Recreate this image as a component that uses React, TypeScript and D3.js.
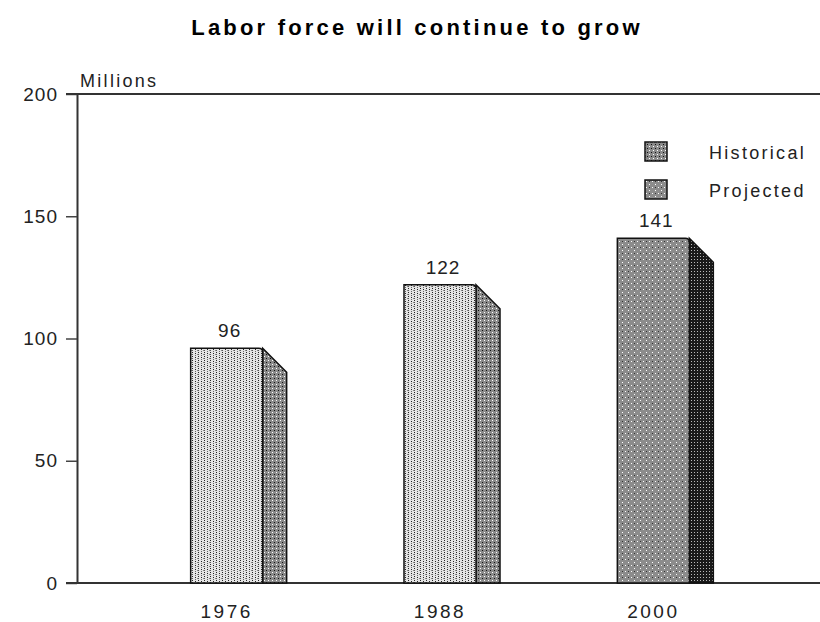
import { axisLeft, scaleLinear, scalePoint, select } from 'd3';
import React, { RefObject, useEffect, useRef } from 'react';

const years = ['1976', '1988', '2000'];
const laborForce = [96, 122, 141];
const kinds = ['Historical', 'Historical', 'Projected'];
const yTicks = [0, 50, 100, 150, 200];
const legendItems = ['Historical', 'Projected'];

const W = 820;
const H = 622;
const FONT = '"Liberation Sans", Arial, sans-serif';

export default function App() {
  const svgRef = useRef<SVGSVGElement>(null);

  useEffect(() => {
    renderChart(svgRef);
  }, []);

  return (
    <svg
      ref={svgRef}
      width={W}
      height={H}
      style={{ position: 'absolute', left: 0, top: 0, background: '#fff' }}
    />
  );
}

function dot(p: any, x: number, y: number, fill: string) {
  p.append('rect').attr('x', x).attr('y', y).attr('width', 1).attr('height', 1).attr('fill', fill);
}

function renderChart(svgRef: RefObject<SVGSVGElement>) {
  const svg = select(svgRef.current);
  svg.selectAll('*').remove();

  const x = scalePoint<string>().domain(years).range([120, 760]).padding(0.5);
  const y = scaleLinear().domain([0, 200]).range([583, 94]);
  const barW = 72;
  const depth = 24;

  // fill patterns, imitating the old dithered printout
  const defs = svg.append('defs');
  const histFront = defs
    .append('pattern')
    .attr('id', 'histFront')
    .attr('patternUnits', 'userSpaceOnUse')
    .attr('width', 6)
    .attr('height', 4);
  histFront.append('rect').attr('width', 6).attr('height', 4).attr('fill', '#e4e4e4');
  dot(histFront, 0, 0, '#222');
  dot(histFront, 0, 2, '#555');
  dot(histFront, 3, 1, '#222');
  dot(histFront, 3, 3, '#666');
  dot(histFront, 5, 2, '#888');

  const histSide = defs
    .append('pattern')
    .attr('id', 'histSide')
    .attr('patternUnits', 'userSpaceOnUse')
    .attr('width', 4)
    .attr('height', 4);
  histSide.append('rect').attr('width', 4).attr('height', 4).attr('fill', '#8a8a8a');
  dot(histSide, 0, 0, '#fff');
  dot(histSide, 2, 2, '#111');

  const projFront = defs
    .append('pattern')
    .attr('id', 'projFront')
    .attr('patternUnits', 'userSpaceOnUse')
    .attr('width', 6)
    .attr('height', 6);
  projFront.append('rect').attr('width', 6).attr('height', 6).attr('fill', '#8c8c8c');
  dot(projFront, 1, 1, '#fff');
  dot(projFront, 4, 4, '#fff');
  dot(projFront, 4, 1, '#333');

  const projSide = defs
    .append('pattern')
    .attr('id', 'projSide')
    .attr('patternUnits', 'userSpaceOnUse')
    .attr('width', 3)
    .attr('height', 3);
  projSide.append('rect').attr('width', 3).attr('height', 3).attr('fill', '#1a1a1a');
  dot(projSide, 1, 1, '#bbb');

  svg
    .append('text')
    .attr('x', 417)
    .attr('y', 35)
    .attr('text-anchor', 'middle')
    .style('font-family', FONT)
    .style('font-size', '22px')
    .style('font-weight', 'bold')
    .style('letter-spacing', '3.2px')
    .text('Labor force will continue to grow');

  svg
    .append('text')
    .attr('x', 80)
    .attr('y', 87)
    .style('font-family', FONT)
    .style('font-size', '18px')
    .style('letter-spacing', '2.3px')
    .attr('fill', '#222')
    .text('Millions');

  const yAxis = axisLeft(y).tickValues(yTicks).tickSize(11).tickSizeOuter(0).tickPadding(8);
  const gy = svg.append('g').attr('transform', 'translate(77,0)').call(yAxis);
  gy.select('.domain').attr('stroke', '#333').attr('stroke-width', 2);
  gy.selectAll('.tick line').attr('stroke', '#444').attr('stroke-width', 1.5);
  gy.selectAll('.tick text')
    .style('font-family', FONT)
    .style('font-size', '19px')
    .style('letter-spacing', '1px')
    .attr('fill', '#222');

  // top frame line at 200 and the baseline at 0
  [200, 0].forEach(v => {
    svg
      .append('line')
      .attr('x1', 66)
      .attr('x2', W)
      .attr('y1', y(v))
      .attr('y2', y(v))
      .attr('stroke', '#333')
      .attr('stroke-width', 2);
  });

  const bars = svg
    .selectAll('g.bar')
    .data(years.map((yr, i) => ({ yr, v: laborForce[i], kind: kinds[i] })))
    .join('g')
    .attr('class', 'bar');

  const left = (d: { yr: string }) => (x(d.yr) ?? 0) - barW / 2;

  bars
    .append('path')
    .attr('d', d => {
      const x0 = left(d) + barW;
      const t = y(d.v);
      return `M${x0},${t} L${x0 + depth},${t + depth} L${x0 + depth},${y(0)} L${x0},${y(0)} Z`;
    })
    .attr('fill', d => (d.kind === 'Historical' ? 'url(#histSide)' : 'url(#projSide)'))
    .attr('stroke', '#111')
    .attr('stroke-width', 1.5);

  bars
    .append('path')
    .attr('d', d => {
      const x0 = left(d);
      const t = y(d.v);
      const r = 4;
      return `M${x0},${y(0)} L${x0},${t} L${x0 + barW - r},${t} Q${x0 + barW},${t} ${x0 + barW},${t + r} L${x0 + barW},${y(0)} Z`;
    })
    .attr('fill', d => (d.kind === 'Historical' ? 'url(#histFront)' : 'url(#projFront)'))
    .attr('stroke', '#111')
    .attr('stroke-width', 1.5);

  bars
    .append('text')
    .attr('x', d => (x(d.yr) ?? 0) + 3)
    .attr('y', d => y(d.v) - 11)
    .attr('text-anchor', 'middle')
    .style('font-family', FONT)
    .style('font-size', '19px')
    .style('letter-spacing', '1px')
    .attr('fill', '#222')
    .text(d => d.v);

  svg
    .selectAll('text.xlab')
    .data(years)
    .join('text')
    .attr('class', 'xlab')
    .attr('x', d => x(d) ?? 0)
    .attr('y', 618)
    .attr('text-anchor', 'middle')
    .style('font-family', FONT)
    .style('font-size', '19px')
    .style('letter-spacing', '2.5px')
    .attr('fill', '#222')
    .text(d => d);

  const legend = svg
    .selectAll('g.legend')
    .data(legendItems)
    .join('g')
    .attr('class', 'legend')
    .attr('transform', (d, i) => `translate(645, ${142 + i * 38})`);

  legend
    .append('rect')
    .attr('width', 22)
    .attr('height', 19)
    .attr('fill', d => (d === 'Historical' ? 'url(#histSide)' : 'url(#projFront)'))
    .attr('stroke', '#111')
    .attr('stroke-width', 1.5);

  legend
    .append('text')
    .attr('x', 64)
    .attr('y', 17)
    .style('font-family', FONT)
    .style('font-size', '18px')
    .style('letter-spacing', '2.3px')
    .attr('fill', '#222')
    .text(d => d);
}
